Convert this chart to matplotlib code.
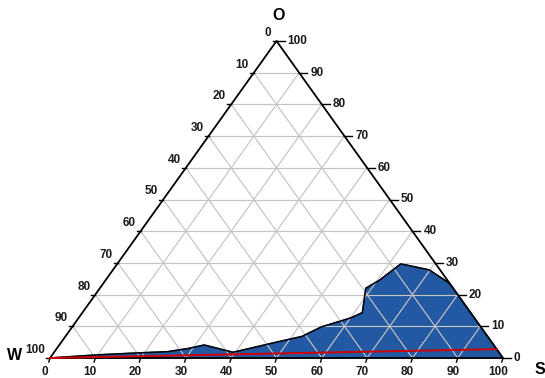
import matplotlib
matplotlib.use("Agg")
import matplotlib.pyplot as plt

# ternary data: S and O percentages (W = 100 - S - O)
region_s = [0, 10, 20, 25, 29, 32, 39.5, 47.5, 52.2, 55, 60, 61.8, 58.7, 60.5, 62.6, 69.8, 76.5, 100]
region_o = [0, 1.0, 1.7, 2.0, 3.0, 4.1, 1.8, 5.0, 6.8, 9.8, 12.6, 14.3, 22.0, 24.6, 29.7, 27.8, 23.5, 0]

red_s = [0, 97.2]
red_o = [0, 2.8]

ticks = list(range(0, 101, 10))

plt.rcParams['font.family'] = ['Liberation Sans', 'DejaVu Sans']


def to_xy(s, o):
    x = [si + oi / 2 for si, oi in zip(s, o)]
    return x, list(o)


fig = plt.figure(figsize=(5.45, 3.78), dpi=100)
ax = fig.add_axes([0, 0, 1, 1])
# pixel mapping: W at (50,358), S at (503,358), O at (277,41)
ax.set_xlim(-50 / 4.53, (545 - 50) / 4.53)
ax.set_ylim(-(378 - 358) / 3.17, 358 / 3.17)
ax.axis("off")

px_x = 1 / 4.53
px_y = 1 / 3.17

# data region
rx, ry = to_xy(region_s, region_o)
ax.fill(rx, ry, color="#2358a3", zorder=1)
ax.plot(rx[:-1], ry[:-1], color="black", lw=1.1, zorder=4)

# grid
for v in ticks[1:-1]:
    # constant O
    x, y = to_xy([0, 100 - v], [v, v])
    ax.plot(x, y, color="#c4c4c4", lw=0.85, zorder=2)
    # constant S
    x, y = to_xy([v, v], [0, 100 - v])
    ax.plot(x, y, color="#c4c4c4", lw=0.85, zorder=2)
    # constant W
    x, y = to_xy([100 - v, 0], [0, 100 - v])
    ax.plot(x, y, color="#c4c4c4", lw=0.85, zorder=2)

# triangle outline
x, y = to_xy([0, 100, 0, 0], [0, 0, 100, 0])
ax.plot(x, y, color="black", lw=1.3, zorder=5)

# red line
x, y = to_xy(red_s, red_o)
ax.plot(x, y, color="#d00000", lw=1.4, zorder=6)

lab = dict(fontsize=8.5, fontweight="bold", color="#1a1a1a")

for v in ticks:
    # bottom axis (S)
    bx, by = to_xy([v], [0])
    ax.plot([bx[0], bx[0] - 1.2 * px_x], [0, -4 * px_y], color="black", lw=1)
    ax.text(bx[0] - 5 * px_x, -14 * px_y, str(v), ha="center", va="center", **lab)
    # left axis (W)
    lx, ly = to_xy([0], [100 - v])
    ax.plot([lx[0], lx[0] - 4 * px_x], [ly[0], ly[0]], color="black", lw=1)
    ax.text(lx[0] - 5 * px_x, ly[0] + 8 * px_y, str(v), ha="right", va="center", **lab)
    # right axis (O)
    rx2, ry2 = to_xy([100 - v], [v])
    ax.plot([rx2[0], rx2[0] + 8 * px_x], [ry2[0], ry2[0]], color="black", lw=1)
    ax.text(rx2[0] + 11 * px_x, ry2[0], str(v), ha="left", va="center", **lab)

vert = dict(fontsize=11.5, fontweight="bold", color="black", ha="center", va="center")
ax.text((15 - 50) * px_x, (358 - 356) * px_y, "W", **vert)
ax.text((540 - 50) * px_x, (358 - 370) * px_y, "S", **vert)
ax.text((279 - 50) * px_x, (358 - 15) * px_y, "O", **vert)

fig.savefig("out.png", dpi=100)
